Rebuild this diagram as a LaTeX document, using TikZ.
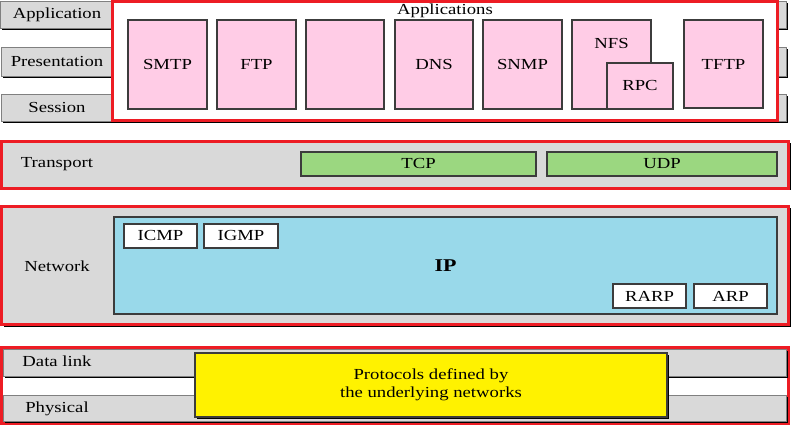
\documentclass[tikz,border=0pt]{standalone}
\usepackage{fontspec}
\setmainfont{Liberation Serif}[FakeStretch=1.22]
\usetikzlibrary{fit,shadows}
\definecolor{layergray}{RGB}{217,217,217}
\definecolor{framered}{RGB}{237,28,36}
\definecolor{apppink}{RGB}{255,204,230}
\definecolor{tpgreen}{RGB}{155,215,128}
\definecolor{ipblue}{RGB}{153,217,234}
\definecolor{boxline}{RGB}{60,60,60}
\begin{document}
\begin{tikzpicture}[x=0.75pt,y=-0.75pt,
  every node/.style={inner sep=0pt,font=\fontsize{11.5}{14}\selectfont},
  every label/.style={anchor=center},
  shade/.style={drop shadow={shadow xshift=1.5pt,shadow yshift=-1.5pt,fill=black,opacity=1}},
  bar/.style={fill=layergray,draw=gray,shade},
  layerframe/.style={draw=framered,line width=2.25pt},
  appbox/.style={fill=apppink,draw=boxline,line width=0.8pt},
  tpbox/.style={fill=tpgreen,draw=boxline,line width=0.8pt},
  subbox/.style={fill=white,draw=boxline,line width=0.8pt}]
  \useasboundingbox (0,0) rectangle (792,427);
  \node[bar,fit={(0,1) (786,28)}] (applbar) {};
  \node[bar,fit={(1,47) (786,76)}] (presbar) {};
  \node[bar,fit={(1,94) (786,121)}] (sessbar) {};
  \node (appl) at (57,15) {Application};
  \node (pres) at (57,62) {Presentation};
  \node (sess) at (57,108) {Session};
  \node[layerframe,fill=white,fit={(112.5,1.5) (777,120.5)}] (apps) {};
  \node (apptitle) at (445,11) {Applications};
  \node[appbox,fit={(128,20) (207,109)},label=center:SMTP] (smtp) {};
  \node[appbox,fit={(217,20) (296,109)},label=center:FTP] (ftp) {};
  \node[appbox,fit={(306,20) (384,109)}] (blank) {};
  \node[appbox,fit={(395,20) (473,109)},label=center:DNS] (dns) {};
  \node[appbox,fit={(483,20) (562,109)},label=center:SNMP] (snmp) {};
  \node[appbox,fit={(572,20) (651,109)},
    label={[yshift=-18pt]north:NFS}] (nfs) {};
  \node[appbox,fit={(607,63) (673,109)},label=center:RPC] (rpc) {};
  \node[appbox,fit={(684,20) (763,108)},label=center:TFTP] (tftp) {};

  \node[layerframe,fill=layergray,shade,fit={(1.5,141.5) (788.5,188.5)}] (transport) {};
  \node (tplbl) at (57,164) {Transport};
  \node[tpbox,fit={(301,152) (536,176)},label=center:TCP] (tcp) {};
  \node[tpbox,fit={(547,152) (777,176)},label=center:UDP] (udp) {};

  \node[layerframe,fill=layergray,shade,fit={(1.5,206.5) (788.5,325)}] (network) {};
  \node (netlbl) at (57,266) {Network};
  \node[fill=ipblue,draw=boxline,line width=0.8pt,fit={(114,217) (777,314)},
    label={[font=\fontsize{13.5}{16}\selectfont\bfseries]center:IP}] (ip) {};
  \node[subbox,fit={(124,224) (197,248)},label=center:ICMP] (icmp) {};
  \node[subbox,fit={(204,224) (278,248)},label=center:IGMP] (igmp) {};
  \node[subbox,fit={(613,284) (686,308)},label=center:RARP] (rarp) {};
  \node[subbox,fit={(694,284) (767,308)},label=center:ARP] (arp) {};

  \node[layerframe,fill=white,fit={(1.5,347.5) (788.5,423)}] (lower) {};
  \node[bar,fit={(3,349) (786,376)}] (dlinkbar) {};
  \node[bar,fit={(3,395) (786,421)}] (physbar) {};
  \node (dlink) at (57,361) {Data link};
  \node (phys) at (57,409) {Physical};
  \node[fill=yellow,draw=boxline,line width=0.8pt,shade,fit={(195,353) (667,417)},
    label={[align=center,font=\fontsize{11.5}{13.5}\selectfont]center:Protocols defined by\\the underlying networks}] (underlying) {};
\end{tikzpicture}
\end{document}
